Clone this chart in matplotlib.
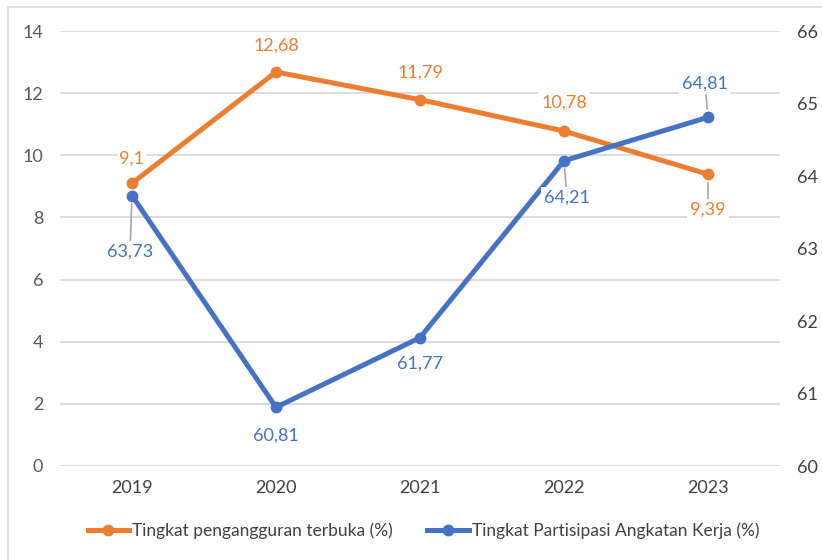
import matplotlib
matplotlib.use('Agg')
import matplotlib.pyplot as plt
from matplotlib.lines import Line2D
import matplotlib.patches as patches

plt.rcParams['font.family'] = ['Lato', 'DejaVu Sans']

# Donnees
years = ['2019', '2020', '2021', '2022', '2023']
tpt = [9.1, 12.68, 11.79, 10.78, 9.39]
tpak = [63.73, 60.81, 61.77, 64.21, 64.81]
tpt_labels = ['9,1', '12,68', '11,79', '10,78', '9,39']
tpak_labels = ['63,73', '60,81', '61,77', '64,21', '64,81']

color_o, color_b = '#ED7D31', '#4472C4'
grid_c = '#D9D9D9'

fig = plt.figure(figsize=(8.22, 5.6), dpi=100)
fig.patches.append(patches.Rectangle((8 / 822, -0.1), 1.2, 1 - 7 / 560 + 0.1,
                                     transform=fig.transFigure, fill=False,
                                     edgecolor='#D9D9D9', linewidth=1.2))

ax = fig.add_axes([60 / 822, 1 - 466 / 560, 720 / 822, 435 / 560])
ax2 = ax.twinx()

x = range(len(years))
ax.set_xlim(-0.5, 4.5)
ax.set_ylim(0, 14)
ax2.set_ylim(60, 66)
ax.set_yticks(range(0, 15, 2))
ax2.set_yticks(range(60, 67))
for y in range(0, 15, 2):
    ax.axhline(y, color=grid_c, lw=1.3, zorder=0)

for a in (ax, ax2):
    for s in a.spines.values():
        s.set_visible(False)
    a.tick_params(length=0)
ax.tick_params(axis='y', labelsize=13, labelcolor='#595959', pad=12)
ax2.tick_params(axis='y', labelsize=13, labelcolor='#404040', pad=12)
ax.set_xticks(list(x))
ax.set_xticklabels(years, fontsize=13, color='#404040')
ax.tick_params(axis='x', pad=10)

ax2.plot(x, tpak, color=color_b, lw=3.6, marker='o', ms=7.5, zorder=3)
ax2.set_zorder(ax.get_zorder() + 1)
ax2.patch.set_visible(False)
ax.plot(x, tpt, color=color_o, lw=3.6, marker='o', ms=7.5, zorder=3)

lead = dict(arrowstyle='-', color='#A6A6A6', lw=1.2, shrinkA=0, shrinkB=6)
box = dict(boxstyle='square,pad=0.15', fc='white', ec='none')

# decalages des etiquettes en pixels (dx, dy, trait de rappel)
o_off = [(0, 25, False), (0, 26, False), (0, 27, False), (0, 28, False), (0, -35, True)]
b_off = [(-2, -56, True), (0, -28, False), (0, -26, False), (3, -37, True), (-3, 34, True)]

for i, (dx, dy, ld) in enumerate(o_off):
    ax2.annotate(tpt_labels[i], (i, 60 + tpt[i] * 6 / 14), xytext=(dx, dy),
                 textcoords='offset pixels', ha='center', va='center',
                 fontsize=13, color=color_o, bbox=box, zorder=5,
                 arrowprops=lead if ld else None)
for i, (dx, dy, ld) in enumerate(b_off):
    ax2.annotate(tpak_labels[i], (i, tpak[i]), xytext=(dx, dy),
                 textcoords='offset pixels', ha='center', va='center',
                 fontsize=13, color=color_b, bbox=box, zorder=5,
                 arrowprops=lead if ld else None)

handles = [Line2D([0], [0], color=color_o, lw=3.6, marker='o', ms=7.5),
           Line2D([0], [0], color=color_b, lw=3.6, marker='o', ms=7.5)]
fig.legend(handles, ['Tingkat pengangguran terbuka (%)', 'Tingkat Partisipasi Angkatan Kerja (%)'],
           loc='center', bbox_to_anchor=(0.515, 1 - 531 / 560), ncol=2, frameon=False,
           fontsize=12.5, handlelength=2.4, handletextpad=0.15, columnspacing=2.0,
           labelcolor='#404040')

fig.savefig('out.png', dpi=100)
